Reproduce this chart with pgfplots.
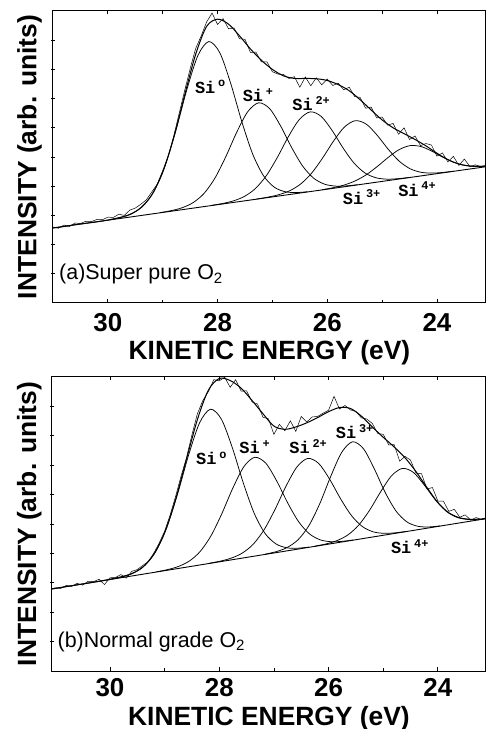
\documentclass[border=0pt]{standalone}
\usepackage{fontspec}
\setmainfont{Liberation Sans}
\newfontfamily\monofont{Liberation Mono}
\usepackage{pgfplots}
\pgfplotsset{compat=1.18}
\newcommand{\SiL}[1]{{\monofont\fontsize{17}{17}\selectfont\bfseries Si\,\textsuperscript{#1}}}
\begin{document}
\begin{tikzpicture}
\pgfplotsset{
  panel/.style={
    scale only axis, x dir=reverse, ymin=0, ymax=10,
    xtick={24,26,28,30}, minor xtick={25,27,29},
    xtick pos=both, xticklabel pos=left,
    ytick={1,2,...,9}, yticklabels={}, ytick pos=left,
    tick align=inside,
    major tick length=3.5bp, minor tick length=3bp,
    every tick/.style={black, line width=0.8bp},
    ytick style={xshift=-1.8bp},
    axis line style={line width=1bp, black},
    /pgf/number format/assume math mode=true,
    ticklabel style={font=\fontsize{26}{28}\selectfont\bfseries},
    xlabel={KINETIC ENERGY (eV)},
    ylabel={INTENSITY (arb. units)},
    label style={font=\fontsize{26.5}{28}\selectfont\bfseries},
    comp/.style={black, line width=0.75bp, smooth},
  }
}
% ---------------- panel (a) ----------------
\begin{axis}[panel, at={(53bp,426bp)}, anchor=south west,
  width=433bp, height=292bp, xmin=23.106, xmax=31.0,
  xticklabel style={anchor=base, yshift=-28.5bp},
  xlabel style={at={(axis description cs:0.5,0)}, anchor=base, yshift=-57bp},
  ylabel style={at={(axis description cs:-0.0381,0.5)}, anchor=base}]
% background
\addplot[black, line width=0.9bp] coordinates {(31.0,2.570) (23.106,4.667)};
% Si0
\addplot[comp] coordinates {(29.96,2.855) (29.76,2.933) (29.56,3.064) (29.36,3.321) (29.16,3.821) (28.96,4.677) (28.76,5.906) (28.56,7.306) (28.36,8.468) (28.16,8.954) (27.96,8.574) (27.76,7.518) (27.56,6.225) (27.36,5.102) (27.16,4.352) (26.96,3.959) (26.76,3.808) (26.56,3.783) (26.36,3.810)};
% Si+
\addplot[comp] coordinates {(29.05,3.093) (28.85,3.161) (28.65,3.259) (28.45,3.432) (28.25,3.745) (28.05,4.269) (27.85,5.009) (27.65,5.849) (27.45,6.550) (27.25,6.856) (27.05,6.656) (26.85,6.061) (26.65,5.327) (26.45,4.693) (26.25,4.277) (26.05,4.070) (25.85,4.003) (25.65,4.011) (25.45,4.049)};
% Si2+
\addplot[comp] coordinates {(28.11,3.342) (27.91,3.407) (27.71,3.498) (27.51,3.650) (27.31,3.919) (27.11,4.362) (26.91,4.985) (26.71,5.691) (26.51,6.283) (26.31,6.546) (26.11,6.389) (25.91,5.904) (25.71,5.304) (25.51,4.787) (25.31,4.450) (25.11,4.288) (24.91,4.241) (24.71,4.257) (24.51,4.298)};
% Si3+
\addplot[comp] coordinates {(27.29,3.558) (27.09,3.622) (26.89,3.706) (26.69,3.839) (26.49,4.067) (26.29,4.435) (26.09,4.950) (25.89,5.532) (25.69,6.020) (25.49,6.244) (25.29,6.127) (25.09,5.745) (24.89,5.269) (24.69,4.860) (24.49,4.598) (24.29,4.476) (24.09,4.449) (23.89,4.471) (23.69,4.515)};
% Si4+
\addplot[comp] coordinates {(26.09,3.880) (25.89,3.949) (25.69,4.041) (25.49,4.181) (25.29,4.390) (25.09,4.671) (24.89,4.984) (24.69,5.252) (24.49,5.389) (24.29,5.358) (24.09,5.196) (23.89,4.989) (23.69,4.815) (23.49,4.712) (23.29,4.679) (23.106,4.690)};
% fitted envelope
\addplot[black, line width=1bp, smooth] coordinates {(31.0,2.57) (30.8,2.62) (30.6,2.68) (30.4,2.73) (30.2,2.78) (30.0,2.84) (29.8,2.92) (29.6,3.03) (29.4,3.26) (29.2,3.70) (29.0,4.48) (28.8,5.66) (28.6,7.12) (28.4,8.51) (28.2,9.47) (28.0,9.72) (27.8,9.55) (27.6,9.15) (27.4,8.70) (27.2,8.31) (27.0,8.00) (26.8,7.78) (26.6,7.69) (26.4,7.69) (26.2,7.68) (26.0,7.62) (25.8,7.48) (25.6,7.27) (25.4,6.96) (25.2,6.61) (25.0,6.27) (24.8,6.00) (24.6,5.80) (24.4,5.60) (24.2,5.38) (24.0,5.13) (23.8,4.91) (23.6,4.76) (23.4,4.69) (23.2,4.68) (23.106,4.69)};
% measured data
\addplot[black, line width=0.5bp] coordinates {(31.0,2.60) (30.9,2.56) (30.8,2.67) (30.7,2.62) (30.6,2.74) (30.5,2.72) (30.4,2.80) (30.3,2.79) (30.2,2.86) (30.1,2.85) (30.0,2.94) (29.9,2.93) (29.8,3.04) (29.7,3.00) (29.6,3.18) (29.5,3.25) (29.4,3.38) (29.3,3.53) (29.2,3.80) (29.1,4.07) (29.0,4.53) (28.9,5.02) (28.8,5.71) (28.7,6.49) (28.6,7.27) (28.5,8.02) (28.4,8.71) (28.3,9.14) (28.2,9.62) (28.1,9.93) (28.0,9.54) (27.9,9.74) (27.8,9.39) (27.7,9.42) (27.6,9.05) (27.5,9.03) (27.4,8.58) (27.3,8.59) (27.2,8.26) (27.1,8.26) (27.0,7.92) (26.9,7.84) (26.8,7.83) (26.7,7.69) (26.6,7.75) (26.5,7.39) (26.4,7.74) (26.3,7.44) (26.2,7.71) (26.1,7.47) (26.0,7.67) (25.9,7.45) (25.8,7.53) (25.7,7.30) (25.6,7.39) (25.5,7.07) (25.4,7.04) (25.3,6.67) (25.2,6.71) (25.1,6.34) (25.0,6.37) (24.9,6.09) (24.8,6.15) (24.7,5.78) (24.6,6.00) (24.5,5.60) (24.4,5.72) (24.3,5.39) (24.2,5.46) (24.1,5.41) (24.0,5.03) (23.9,5.14) (23.8,4.83) (23.7,5.02) (23.6,4.71) (23.5,4.93) (23.4,4.67) (23.3,4.73) (23.2,4.67) (23.106,4.71)};
\node at (axis cs:28.13,7.40) {\SiL{o}};
\node at (axis cs:27.26,7.12) {\SiL{+}};
\node at (axis cs:26.29,6.82) {\SiL{2+}};
\node at (axis cs:25.37,3.63) {\SiL{3+}};
\node at (axis cs:24.36,3.90) {\SiL{4+}};
\node[anchor=base west, inner sep=0pt, font=\fontsize{21.5}{22}\selectfont] at (axis cs:30.89,0.79) {(a)Super pure O\textsubscript{2}};
\end{axis}
% ---------------- panel (b) ----------------
\begin{axis}[panel, at={(52bp,58bp)}, anchor=south west,
  width=434bp, height=294bp, xmin=23.12, xmax=31.06,
  xticklabel style={anchor=base, yshift=-25.5bp},
  xlabel style={at={(axis description cs:0.5,0)}, anchor=base, yshift=-54bp},
  ylabel style={at={(axis description cs:-0.0368,0.5)}, anchor=base}]
\addplot[black, line width=0.9bp] coordinates {(31.06,2.792) (23.12,5.182)};
% Si0
\addplot[comp] coordinates {(29.96,3.131) (29.76,3.214) (29.56,3.347) (29.36,3.598) (29.16,4.073) (28.96,4.881) (28.76,6.035) (28.56,7.349) (28.36,8.441) (28.16,8.905) (27.96,8.562) (27.76,7.590) (27.56,6.396) (27.36,5.362) (27.16,4.674) (26.96,4.320) (26.76,4.190) (26.56,4.177) (26.36,4.214)};
% Si+
\addplot[comp] coordinates {(29.15,3.372) (28.95,3.447) (28.75,3.554) (28.55,3.736) (28.35,4.063) (28.15,4.602) (27.95,5.364) (27.75,6.228) (27.55,6.950) (27.35,7.269) (27.15,7.071) (26.95,6.469) (26.75,5.725) (26.55,5.083) (26.35,4.664) (26.15,4.459) (25.95,4.397) (25.75,4.410) (25.55,4.455)};
% Si2+
\addplot[comp] coordinates {(28.18,3.664) (27.98,3.737) (27.78,3.839) (27.58,4.009) (27.38,4.309) (27.18,4.802) (26.98,5.495) (26.78,6.280) (26.58,6.937) (26.38,7.231) (26.18,7.058) (25.98,6.521) (25.78,5.856) (25.58,5.283) (25.38,4.911) (25.18,4.732) (24.98,4.682) (24.78,4.700) (24.58,4.747)};
% Si3+
\addplot[comp] coordinates {(27.16,3.974) (26.96,4.058) (26.76,4.198) (26.56,4.461) (26.36,4.943) (26.16,5.696) (25.96,6.622) (25.76,7.436) (25.56,7.797) (25.36,7.556) (25.16,6.862) (24.96,6.058) (24.76,5.425) (24.56,5.063) (24.36,4.920) (24.16,4.900) (23.96,4.936)};
% Si4+
\addplot[comp] coordinates {(26.25,4.245) (26.05,4.321) (25.85,4.432) (25.65,4.624) (25.45,4.958) (25.25,5.468) (25.05,6.087) (24.85,6.636) (24.65,6.891) (24.45,6.757) (24.25,6.328) (24.05,5.829) (23.85,5.439) (23.65,5.226) (23.45,5.154) (23.25,5.148) (23.12,5.189)};
% fitted envelope
\addplot[black, line width=1bp, smooth] coordinates {(31.06,2.79) (30.8,2.87) (30.6,2.93) (30.4,2.99) (30.2,3.05) (30.0,3.12) (29.8,3.20) (29.6,3.31) (29.4,3.53) (29.2,3.96) (29.0,4.70) (28.8,5.83) (28.6,7.20) (28.4,8.55) (28.2,9.55) (28.0,9.95) (27.8,9.88) (27.6,9.62) (27.4,9.20) (27.2,8.75) (27.0,8.33) (26.8,8.22) (26.6,8.30) (26.4,8.44) (26.2,8.62) (26.0,8.82) (25.8,8.96) (25.6,8.93) (25.4,8.67) (25.2,8.30) (25.0,7.95) (24.8,7.62) (24.6,7.25) (24.4,6.78) (24.2,6.24) (24.0,5.73) (23.8,5.38) (23.6,5.21) (23.4,5.16) (23.2,5.17) (23.12,5.19)};
% measured data
\addplot[black, line width=0.5bp] coordinates {(31.06,2.80) (31.0,2.83) (30.9,2.81) (30.8,2.91) (30.7,2.88) (30.6,2.98) (30.5,2.92) (30.4,3.05) (30.3,3.04) (30.2,3.12) (30.1,2.94) (30.0,3.17) (29.9,3.18) (29.8,3.28) (29.7,3.16) (29.6,3.39) (29.5,3.45) (29.4,3.59) (29.3,3.72) (29.2,4.00) (29.1,4.35) (29.0,4.75) (28.9,5.30) (28.8,5.93) (28.7,6.62) (28.6,7.25) (28.5,8.03) (28.4,8.75) (28.3,9.20) (28.2,9.50) (28.1,9.91) (28.0,9.87) (27.9,9.99) (27.8,9.65) (27.7,9.91) (27.6,9.52) (27.5,9.53) (27.4,9.15) (27.3,9.08) (27.2,8.63) (27.1,8.58) (27.0,8.05) (26.9,8.39) (26.8,8.17) (26.7,8.51) (26.6,8.15) (26.5,8.66) (26.4,8.47) (26.3,8.64) (26.2,8.66) (26.1,8.77) (26.0,8.87) (25.9,9.34) (25.8,8.91) (25.7,9.03) (25.6,8.88) (25.5,8.83) (25.4,8.61) (25.3,8.57) (25.2,8.42) (25.1,8.08) (25.0,8.05) (24.9,7.69) (24.8,7.70) (24.7,7.14) (24.6,7.30) (24.5,7.17) (24.4,6.73) (24.3,6.71) (24.2,6.19) (24.1,6.24) (24.0,5.78) (23.9,5.78) (23.8,5.43) (23.7,5.50) (23.6,5.23) (23.5,5.31) (23.4,5.13) (23.3,5.22) (23.2,5.15) (23.12,5.22)};
\node at (axis cs:28.14,7.24) {\SiL{o}};
\node at (axis cs:27.35,7.62) {\SiL{+}};
\node at (axis cs:26.37,7.62) {\SiL{2+}};
\node at (axis cs:25.52,8.13) {\SiL{3+}};
\node at (axis cs:24.51,4.22) {\SiL{4+}};
\node[anchor=base west, inner sep=0pt, font=\fontsize{21.5}{22}\selectfont] at (axis cs:30.96,0.81) {(b)Normal grade O\textsubscript{2}};
\end{axis}
\pgfresetboundingbox
\useasboundingbox (0,0) rectangle (487bp,729bp);
\end{tikzpicture}
\end{document}
